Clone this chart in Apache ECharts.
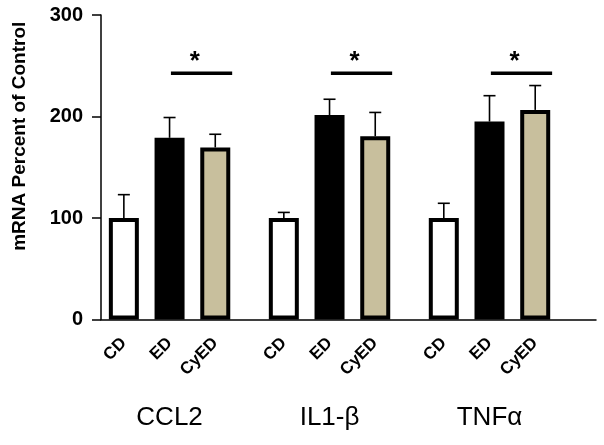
<!DOCTYPE html>
<html><head><meta charset="utf-8">
<script src="https://cdn.jsdelivr.net/npm/echarts@6/dist/echarts.min.js"></script>
<style>html,body{margin:0;padding:0;background:#fff}#c{width:604px;height:445px}</style>
</head><body><div id="c"></div>
<script>
// ---- data ----
const groups = ['CCL2', 'IL1-β', 'TNFα'];
const conditions = ['CD', 'ED', 'CyED'];
const ccl2 = [100, 179, 169.5];
const il1b = [100, 201.5, 180.5];
const tnfa = [100, 195, 206.5];
const ccl2Err = [23, 20, 13];
const il1bErr = [5.5, 15.5, 23.5];
const tnfaErr = [14.5, 25.5, 24];
const sigLevel = [242.5, 242.5, 242.5];
const yTicks = [0, 100, 200, 300];

// ---- layout ----
const GROUP_PITCH = 3.5;
const fills = ['#ffffff', '#000000', '#c8bf9d'];
const FONT = 'Liberation Sans, Arial, sans-serif';
const values = [ccl2, il1b, tnfa];
const errs = [ccl2Err, il1bErr, tnfaErr];

const barData = [], errData = [], sigData = [];
const condLabelAt = {}, groupLabelAt = {};
groups.forEach((g, gi) => {
  conditions.forEach((c, ci) => {
    const x = gi * GROUP_PITCH + ci;
    condLabelAt[x] = c;
    barData.push({value: [x, values[gi][ci]],
      itemStyle: {color: fills[ci], borderColor: '#000', borderWidth: 4}});
    errData.push([x, values[gi][ci], values[gi][ci] + errs[gi][ci]]);
  });
  groupLabelAt[gi * GROUP_PITCH + 1] = g;
  sigData.push([gi * GROUP_PITCH + 1.7, sigLevel[gi]]);
});

const chart = echarts.init(document.getElementById('c'), null, {renderer: 'canvas'});
chart.setOption({
  animation: false,
  backgroundColor: '#fff',
  grid: {left: 101, right: 8, top: 15, bottom: 125.5},
  xAxis: [{
    type: 'value', min: -0.5, max: 10.33, interval: 0.5,
    axisLine: {show: true, onZero: false, lineStyle: {color: '#000', width: 1.5}},
    axisTick: {show: false}, splitLine: {show: false},
    axisLabel: {
      rotate: 45, margin: 21, fontSize: 17, fontWeight: 'bold', color: '#000', fontFamily: FONT,
      showMinLabel: true, showMaxLabel: true,
      formatter: v => condLabelAt[Math.round(v * 2) / 2] || ''
    }
  }, {
    type: 'value', min: -0.5, max: 10.33, interval: 0.5, position: 'bottom',
    axisLine: {show: false, onZero: false}, axisTick: {show: false}, splitLine: {show: false},
    axisLabel: {
      margin: 85, fontSize: 26, color: '#000', fontFamily: FONT,
      formatter: v => groupLabelAt[Math.round(v * 2) / 2] || ''
    }
  }],
  yAxis: {
    type: 'value', min: yTicks[0], max: yTicks[yTicks.length - 1], interval: 100,
    name: 'mRNA Percent of Control', nameLocation: 'middle', nameGap: 72,
    nameTextStyle: {fontSize: 19, fontWeight: 'bold', color: '#000', fontFamily: FONT, padding: [0, 0, 0, 62]},
    axisLine: {show: true, onZero: false, lineStyle: {color: '#000', width: 1.5}},
    axisTick: {show: true, length: 9, lineStyle: {color: '#000', width: 1.5}},
    splitLine: {show: false},
    axisLabel: {margin: 18, fontSize: 20, fontWeight: 'bold', color: '#000', fontFamily: FONT}
  },
  series: [{
    type: 'custom', xAxisIndex: 0, z: 1,
    data: errData,
    encode: {x: 0, y: [1, 2]},
    renderItem: (params, api) => {
      const x = api.value(0);
      const p0 = api.coord([x, api.value(1)]);
      const p1 = api.coord([x, api.value(2)]);
      return {type: 'group', children: [
        {type: 'line', shape: {x1: p0[0], y1: p0[1], x2: p1[0], y2: p1[1]}, style: {stroke: '#000', lineWidth: 1.6}},
        {type: 'line', shape: {x1: p1[0] - 6, y1: p1[1], x2: p1[0] + 6, y2: p1[1]}, style: {stroke: '#000', lineWidth: 1.6}}
      ]};
    }
  }, {
    type: 'bar', xAxisIndex: 0, z: 2, barWidth: 30,
    data: barData
  }, {
    type: 'custom', xAxisIndex: 0, z: 3,
    data: sigData,
    encode: {x: 0, y: 1},
    renderItem: (params, api) => {
      const cx = api.value(0), y = api.value(1);
      const a = api.coord([cx - 0.67, y]);
      const b = api.coord([cx + 0.67, y]);
      const s = api.coord([cx - 0.15, y]);
      return {type: 'group', children: [
        {type: 'line', shape: {x1: a[0], y1: a[1], x2: b[0], y2: b[1]}, style: {stroke: '#000', lineWidth: 3.5}},
        {type: 'text', style: {text: '*', x: s[0], y: s[1] - 12, textAlign: 'center', textVerticalAlign: 'middle',
          font: 'bold 26px ' + FONT, fill: '#000'}}
      ]};
    }
  }]
});
</script></body></html>
